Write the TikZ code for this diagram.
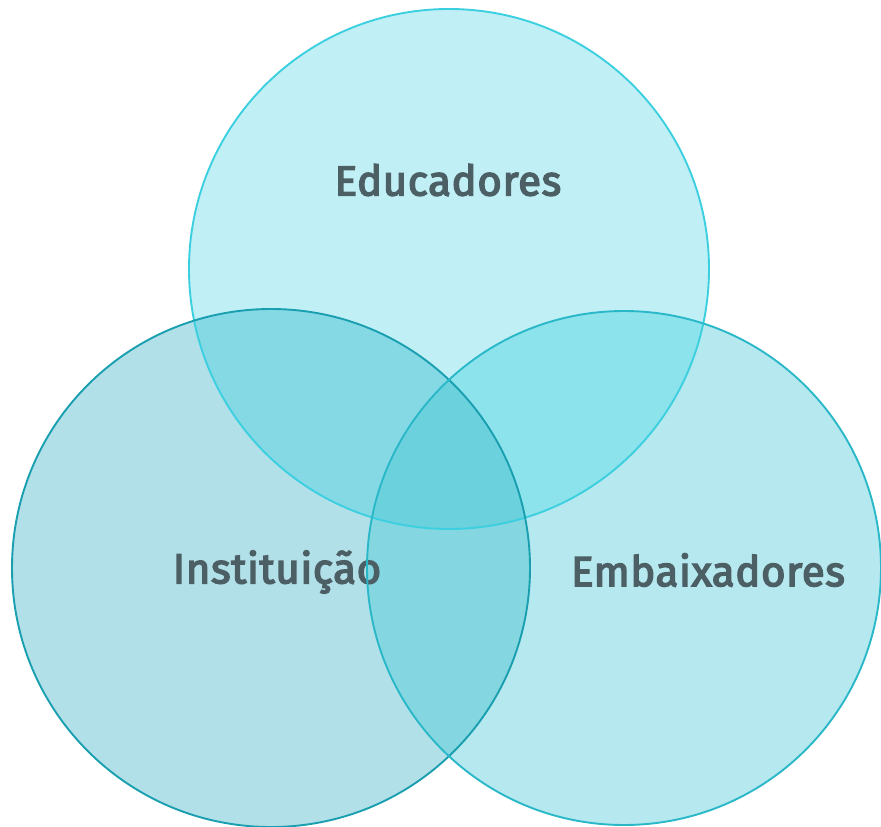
\documentclass[tikz,border=0pt]{standalone}
\usepackage{fontspec}
\setmainfont{Fira Sans}[FakeBold=3.5,LetterSpace=1.5]
\usepackage{xcolor}

\definecolor{eduFill}{HTML}{C0F0F6}
\definecolor{eduLine}{HTML}{3CCFDF}
\definecolor{instFill}{HTML}{B2E0E8}
\definecolor{instLine}{HTML}{1A9FB0}
\definecolor{embFill}{HTML}{B6E9EF}
\definecolor{embLine}{HTML}{2AB8C8}
\definecolor{eduInst}{HTML}{85D9E5}
\definecolor{eduEmb}{HTML}{8CE3EB}
\definecolor{instEmb}{HTML}{84D6E0}
\definecolor{allThree}{HTML}{6BD1DD}
\definecolor{labelText}{HTML}{4B5F65}

\begin{document}
\begin{tikzpicture}[x=1pt,y=1pt,yscale=-1,xscale=1,
  label/.style={inner sep=0pt,text=labelText,font=\fontsize{42}{46}\selectfont},
  ring/.style={line width=1.9pt}]
\useasboundingbox (0,0) rectangle (881,827);

\coordinate (edu) at (449,269);
\coordinate (inst) at (271,568);
\coordinate (emb) at (624,568);

%Shape: Circle fills
\fill[eduFill] (edu) circle (260);
\fill[instFill] (inst) circle (259);
\fill[embFill] (emb) circle (257);

%Overlaps
\begin{scope}
\clip (edu) circle (260);
\fill[eduInst] (inst) circle (259);
\fill[eduEmb] (emb) circle (257);
\end{scope}
\begin{scope}
\clip (inst) circle (259);
\fill[instEmb] (emb) circle (257);
\clip (emb) circle (257);
\fill[allThree] (edu) circle (260);
\end{scope}

% Text Node
\node[label] (instLabel) at (277,572) {Instituição};

%Shape: Circle outlines
\draw[ring,eduLine] (edu) circle (260);
\draw[ring,instLine] (inst) circle (259);
\draw[ring,embLine] (emb) circle (257);

% Text Node
\node[label] (eduLabel) at (448,180) {Educadores};
% Text Node
\node[label] (embLabel) at (708,570) {Embaixadores};

\end{tikzpicture}
\end{document}
